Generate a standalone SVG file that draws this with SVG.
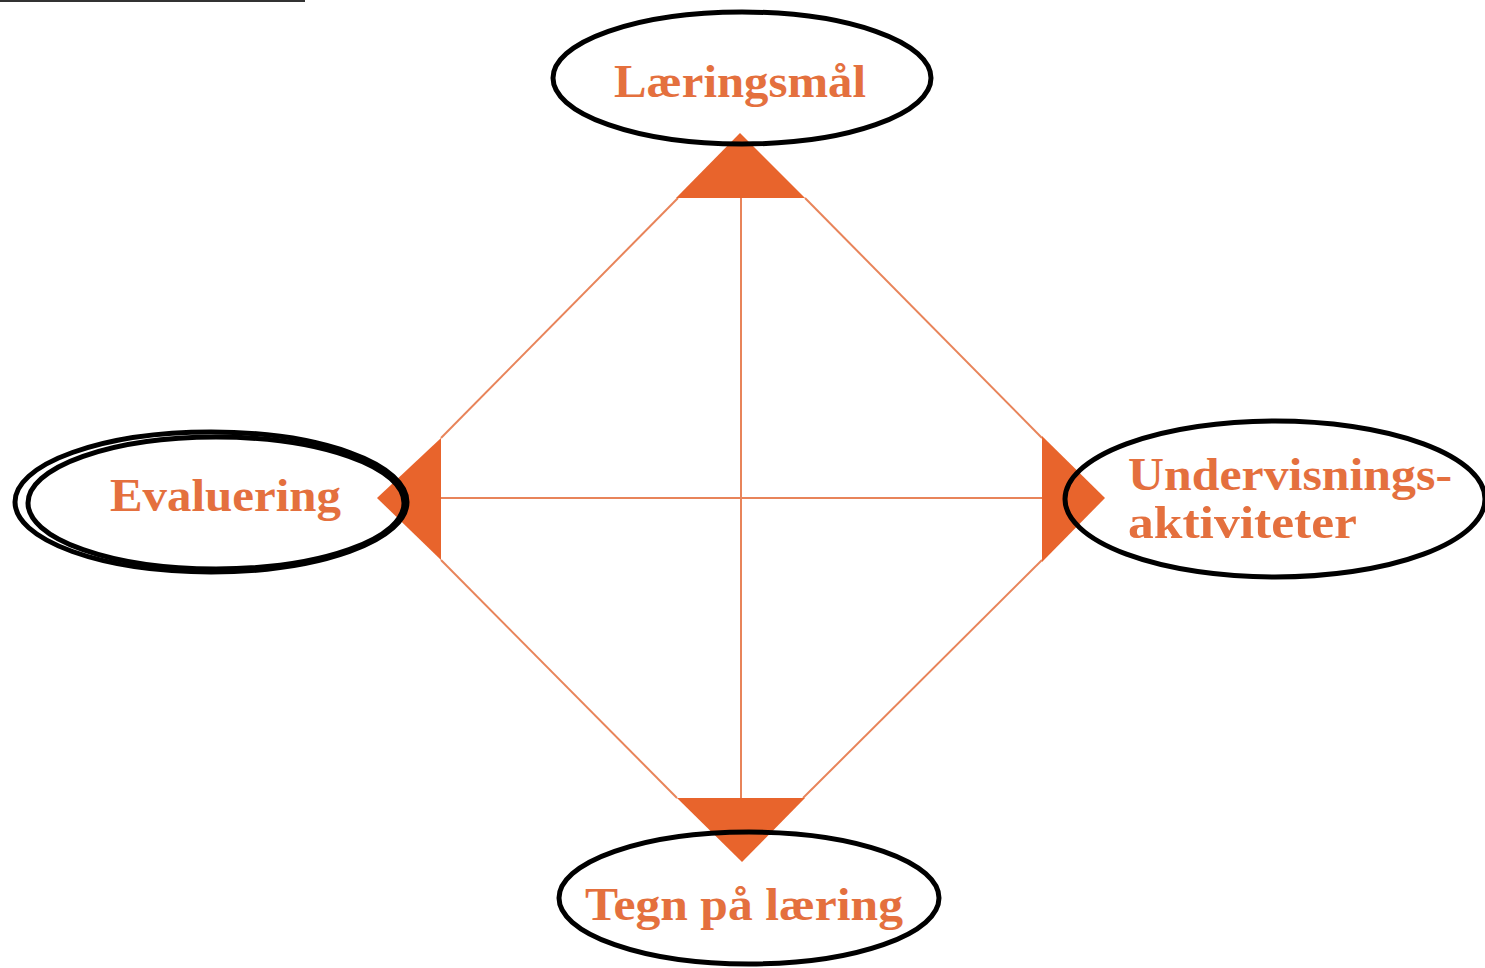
<svg xmlns="http://www.w3.org/2000/svg" width="1485" height="968" viewBox="0 0 1485 968">
<style>
.ln{stroke:#e8845a;stroke-width:2;fill:none}
.tri{fill:#e8642c}
.lbl{font-family:"Liberation Serif",serif;font-weight:bold;font-size:46px;fill:#e4703e}
.ov{fill:none;stroke:#000;stroke-width:5}
</style>
<rect width="1485" height="968" fill="#fff"/>
<line x1="0" y1="1" x2="305" y2="1" stroke="#333" stroke-width="2"/>
<g id="connectors">
<line class="ln" x1="678" y1="198" x2="441" y2="438"/>
<line class="ln" x1="805" y1="198" x2="1042" y2="438"/>
<line class="ln" x1="441" y1="560" x2="677" y2="798"/>
<line class="ln" x1="1042" y1="560" x2="803" y2="798"/>
<line class="ln" x1="741" y1="198" x2="741" y2="798"/>
<line class="ln" x1="441" y1="498" x2="1042" y2="498"/>
</g>
<g id="node-laeringsmal">
<polygon class="tri" points="740,133 805,198 676,198"/>
<ellipse class="ov" cx="742" cy="78" rx="189" ry="66"/>
<text class="lbl" x="614" y="97" textLength="252" lengthAdjust="spacingAndGlyphs">Læringsmål</text>
</g>
<g id="node-evaluering">
<polygon class="tri" points="377,498 441,438 441,560"/>
<ellipse class="ov" cx="211" cy="502" rx="196" ry="70"/>
<ellipse class="ov" cx="216" cy="503" rx="188" ry="66"/>
<text class="lbl" x="110" y="511" textLength="231" lengthAdjust="spacingAndGlyphs">Evaluering</text>
</g>
<g id="node-undervisning">
<polygon class="tri" points="1105,498 1042,436 1042,562"/>
<ellipse class="ov" cx="1275" cy="499" rx="210" ry="78"/>
<text class="lbl" x="1128" y="490" textLength="324" lengthAdjust="spacingAndGlyphs">Undervisnings-</text>
<text class="lbl" x="1128" y="538" textLength="229" lengthAdjust="spacingAndGlyphs">aktiviteter</text>
</g>
<g id="node-tegn">
<polygon class="tri" points="677,798 805,798 742,862"/>
<ellipse class="ov" cx="749" cy="898" rx="190" ry="66"/>
<text class="lbl" x="585" y="920" textLength="318" lengthAdjust="spacingAndGlyphs">Tegn på læring</text>
</g>
</svg>
